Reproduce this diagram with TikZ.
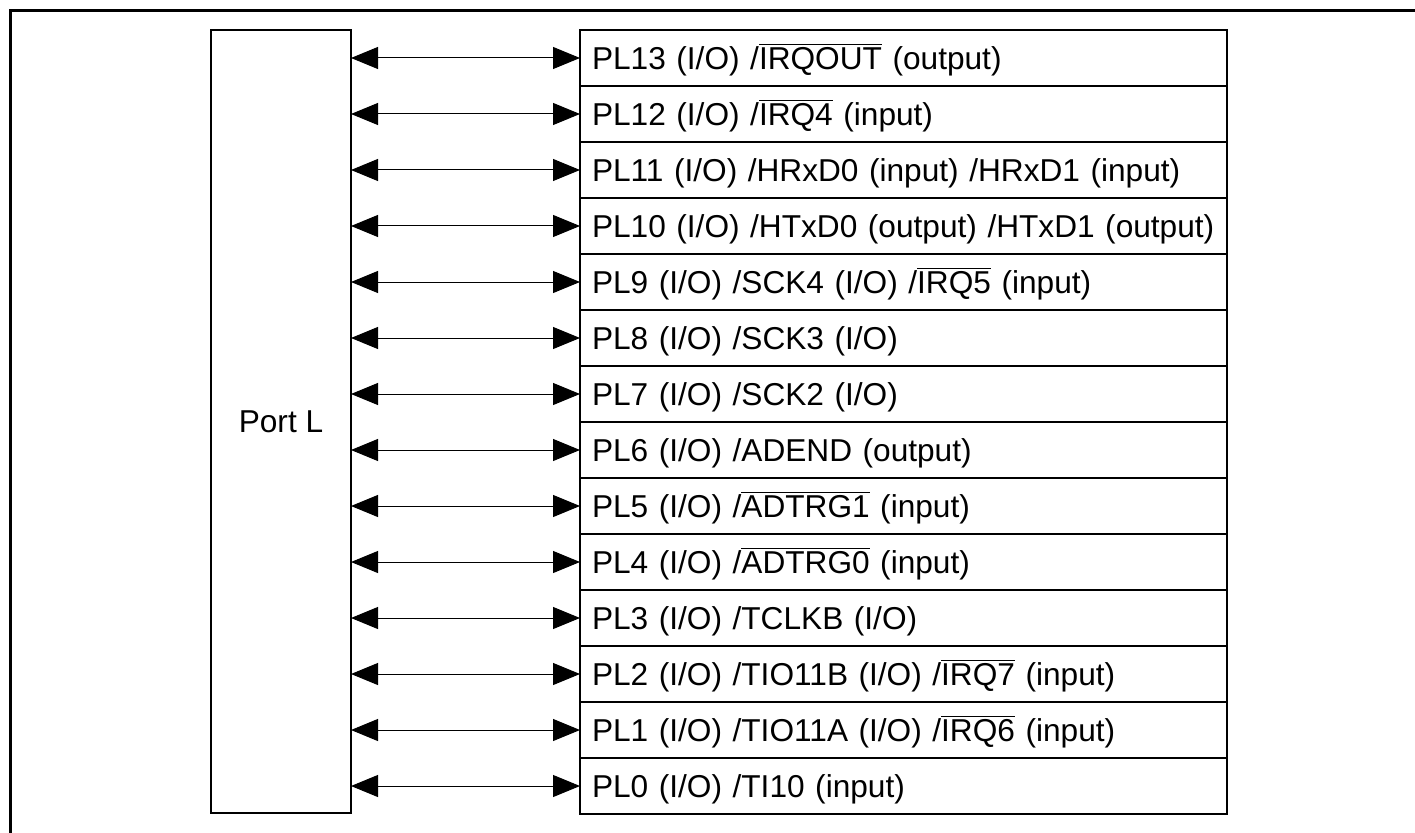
\documentclass[tikz,border=0pt]{standalone}
\usepackage{fontspec}
\setmainfont{Liberation Sans}
\usepackage{tikz}
\usetikzlibrary{
  arrows.meta,
  positioning
}
\newcommand{\sigbar}[1]{$\overline{\mbox{#1}}$}
\tikzset{
  plnode/.style={
    draw, line width=0.3mm, outer sep=0pt, inner sep=0pt,
    font=\fontsize{18pt}{20pt}\selectfont,
    text height=16.3pt, text depth=3.4pt
  },
  portbox/.style={plnode, minimum width=28mm, minimum height=156.6mm, align=center},
  pinrow/.style={plnode, minimum width=129.4mm, minimum height=11.2mm,
    text width=124.6mm, inner xsep=2.4mm, align=left},
  pinlink/.style={{Triangle[length=5.4mm, width=4.4mm]}-{Triangle[length=5.4mm, width=4.4mm]}, line width=0.2mm},
  frameline/.style={line width=0.6mm}
}

\begin{document}
\begin{tikzpicture}[x=0.2mm, y=-0.2mm, node distance=0pt]
  \useasboundingbox (0,0) rectangle (1415,833);
  \draw[frameline] (10.5,833) -- (10.5,10.5) -- (1415,10.5);

  \node[portbox, anchor=north west] (portL) at (211,30) {Port L};

  \node[pinrow, anchor=north west] (pl13) at (580,30) {PL13 (I/O) /\sigbar{IRQOUT} (output)};
  \node[pinrow, below=of pl13] (pl12) {PL12 (I/O) /\sigbar{IRQ4} (input)};
  \node[pinrow, below=of pl12] (pl11) {PL11 (I/O) /HRxD0 (input) /HRxD1 (input)};
  \node[pinrow, below=of pl11] (pl10) {PL10 (I/O) /HTxD0 (output) /HTxD1 (output)};
  \node[pinrow, below=of pl10] (pl9) {PL9 (I/O) /SCK4 (I/O) /\sigbar{IRQ5} (input)};
  \node[pinrow, below=of pl9] (pl8) {PL8 (I/O) /SCK3 (I/O)};
  \node[pinrow, below=of pl8] (pl7) {PL7 (I/O) /SCK2 (I/O)};
  \node[pinrow, below=of pl7] (pl6) {PL6 (I/O) /ADEND (output)};
  \node[pinrow, below=of pl6] (pl5) {PL5 (I/O) /\sigbar{ADTRG1} (input)};
  \node[pinrow, below=of pl5] (pl4) {PL4 (I/O) /\sigbar{ADTRG0} (input)};
  \node[pinrow, below=of pl4] (pl3) {PL3 (I/O) /TCLKB (I/O)};
  \node[pinrow, below=of pl3] (pl2) {PL2 (I/O) /TIO11B (I/O) /\sigbar{IRQ7} (input)};
  \node[pinrow, below=of pl2] (pl1) {PL1 (I/O) /TIO11A (I/O) /\sigbar{IRQ6} (input)};
  \node[pinrow, below=of pl1] (pl0) {PL0 (I/O) /TI10 (input)};

  % links between the port and its pins
  \draw[pinlink] (portL.east |- pl13.west) -- (pl13.west);
  \draw[pinlink] (portL.east |- pl12.west) -- (pl12.west);
  \draw[pinlink] (portL.east |- pl11.west) -- (pl11.west);
  \draw[pinlink] (portL.east |- pl10.west) -- (pl10.west);
  \draw[pinlink] (portL.east |- pl9.west) -- (pl9.west);
  \draw[pinlink] (portL.east |- pl8.west) -- (pl8.west);
  \draw[pinlink] (portL.east |- pl7.west) -- (pl7.west);
  \draw[pinlink] (portL.east |- pl6.west) -- (pl6.west);
  \draw[pinlink] (portL.east |- pl5.west) -- (pl5.west);
  \draw[pinlink] (portL.east |- pl4.west) -- (pl4.west);
  \draw[pinlink] (portL.east |- pl3.west) -- (pl3.west);
  \draw[pinlink] (portL.east |- pl2.west) -- (pl2.west);
  \draw[pinlink] (portL.east |- pl1.west) -- (pl1.west);
  \draw[pinlink] (portL.east |- pl0.west) -- (pl0.west);
\end{tikzpicture}
\end{document}
